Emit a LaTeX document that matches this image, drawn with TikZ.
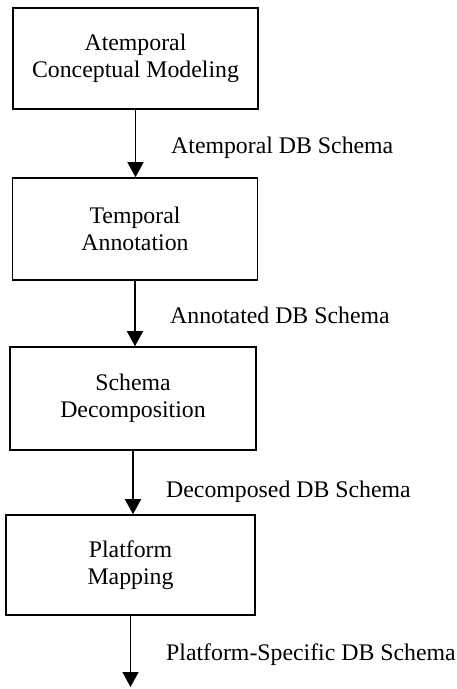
\documentclass[tikz,border=0pt]{standalone}
\usepackage{fontspec}
\setmainfont{Liberation Serif}
\usetikzlibrary{arrows.meta}
\begin{document}
\begin{tikzpicture}[x=1pt,y=-1pt,
  stepbox/.style={draw,line width=1.6pt,rectangle,align=center,inner sep=0pt,
    font=\fontsize{23.8}{27}\selectfont},
  lbl/.style={anchor=base west,inner sep=0pt,font=\fontsize{23.8}{27}\selectfont},
  arr/.style={line width=1.6pt,-{Triangle[width=16pt,length=15pt]}}]
\useasboundingbox (0,0) rectangle (457,689);
\node[stepbox,minimum width=245pt,minimum height=101pt] (b1) at (135.5,58.5) {Atemporal\\Conceptual Modeling};
\node[stepbox,minimum width=245pt,minimum height=102pt] (b2) at (135,229) {Temporal\\Annotation};
\node[stepbox,minimum width=246pt,minimum height=103pt] (b3) at (133,398.5) {Schema\\Decomposition};
\node[stepbox,minimum width=249pt,minimum height=100pt] (b4) at (130.5,565) {Platform\\Mapping};
\coordinate (end) at (130.5,687);
\draw[arr] (b1.south) -- (b1.south |- b2.north);
\draw[arr] (b2.south) -- (b2.south |- b3.north);
\draw[arr] (b3.south) -- (b3.south |- b4.north);
\draw[arr] (b4.south) -- (end);
\node[lbl] (l1) at (171,153) {Atemporal DB Schema};
\node[lbl] (l2) at (170,323) {Annotated DB Schema};
\node[lbl] (l3) at (166,497) {Decomposed DB Schema};
\node[lbl] (l4) at (166,660) {Platform-Specific DB Schema};
\end{tikzpicture}
\end{document}
